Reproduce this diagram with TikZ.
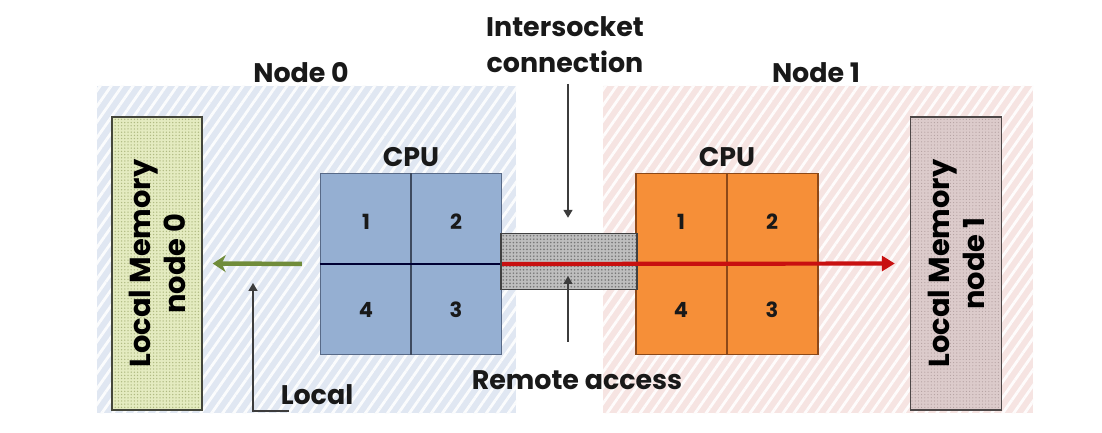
\documentclass[tikz,border=0pt]{standalone}
\usepackage{fontspec}
\setmainfont{Poppins}
\usetikzlibrary{patterns.meta,arrows.meta,calc}
\definecolor{regblue}{RGB}{224,231,242}
\definecolor{regpink}{RGB}{246,228,226}
\definecolor{cpublue}{RGB}{149,175,210}
\definecolor{cpublueedge}{RGB}{88,106,136}
\definecolor{cpuorange}{RGB}{246,143,56}
\definecolor{cpuorangeedge}{RGB}{140,72,24}
\definecolor{memgreen}{RGB}{228,235,192}
\definecolor{memgreendot}{RGB}{176,186,130}
\definecolor{mempink}{RGB}{220,203,203}
\definecolor{mempinkdot}{RGB}{180,160,160}
\definecolor{bargrey}{RGB}{190,190,190}
\definecolor{bardot}{RGB}{120,120,120}
\definecolor{arrowgreen}{RGB}{112,140,58}
\definecolor{arrowred}{RGB}{200,16,16}
\definecolor{ptrgrey}{RGB}{60,60,60}
\definecolor{txt}{RGB}{25,25,25}
\begin{document}
\begin{tikzpicture}[x=1bp,y=-1bp,
  region/.style={draw=none, inner sep=0, pattern={Lines[angle=55,distance=9bp,line width=2.8bp]}, pattern color=white!88!#1},
  lbl/.style={font=\bfseries\fontsize{27}{36}\selectfont, text=txt, inner sep=0},
  numlbl/.style={font=\bfseries\fontsize{21}{22}\selectfont, text=txt, inner sep=0},
  memlbl/.style={font=\bfseries\fontsize{29}{35}\selectfont, text=black, inner sep=0, align=center, rotate=90},
  cpubox/.style={minimum width=181bp, minimum height=181bp, inner sep=0, line width=1.3bp},
  membox/.style={minimum width=90bp, minimum height=293bp, inner sep=0, line width=1.4bp},
  ptr/.style={draw=ptrgrey, line width=1.6bp, -{Triangle[length=8bp,width=9bp]}}
]
\useasboundingbox (0,0) rectangle (1102,433);
\fill[white] (0,0) rectangle (1102,433);

% node regions
\node[region=regblue, preaction={fill=regblue}, minimum width=419bp, minimum height=327bp] (reg0) at (306.5,249.5) {};
\node[region=regpink, preaction={fill=regpink}, minimum width=430bp, minimum height=327bp] (reg1) at (818,249.5) {};

% titles
\node[lbl] (n0lbl) at (301,73) {Node 0};
\node[lbl] (n1lbl) at (816,73) {Node 1};
\node[lbl, align=center] (isclbl) at (565,45) {Intersocket\\connection};

% memory boxes
\node[membox, draw=black!70!memgreen, preaction={fill=memgreen}, pattern={Dots[distance=3.2bp,radius=0.75bp]}, pattern color=memgreendot] (mem0) at (157,263.5) {};
\node[memlbl] (mem0lbl) at (mem0.center) {Local Memory\\node 0};
\node[membox, minimum width=91bp, draw=black!65!mempink, preaction={fill=mempink}, pattern={Dots[distance=3.2bp,radius=0.6bp]}, pattern color=mempinkdot] (mem1) at (956,263.5) {};
\node[memlbl] (mem1lbl) at (mem1.center) {Local Memory\\node 1};

% CPUs
\node[cpubox, fill=cpublue, draw=cpublueedge] (cpu0) at (411,264) {};
\node[cpubox, minimum width=182bp, fill=cpuorange, draw=cpuorangeedge] (cpu1) at (727,264) {};
\draw[line width=1.4bp, draw=cpublueedge!70!black] (cpu0.north) -- (cpu0.south);
\draw[line width=1.4bp, draw=black!80!blue] (cpu0.west) -- (cpu0.east);
\draw[line width=1.6bp, draw=cpuorangeedge] (cpu1.north) -- (cpu1.south);

\node[lbl] (cpu0lbl) at (411,157) {CPU};
\node[lbl] (cpu1lbl) at (727,157) {CPU};

\node[numlbl] (c01) at ($(cpu0.center)+(-45,-42)$) {1};
\node[numlbl] (c02) at ($(cpu0.center)+(45,-42)$) {2};
\node[numlbl] (c04) at ($(cpu0.center)+(-45,46)$) {4};
\node[numlbl] (c03) at ($(cpu0.center)+(45,46)$) {3};
\node[numlbl] (c11) at ($(cpu1.center)+(-46,-42)$) {1};
\node[numlbl] (c12) at ($(cpu1.center)+(45,-42)$) {2};
\node[numlbl] (c14) at ($(cpu1.center)+(-46,46)$) {4};
\node[numlbl] (c13) at ($(cpu1.center)+(45,46)$) {3};

% intersocket bar
\node[draw=black!75, line width=1.4bp, minimum width=136bp, minimum height=56bp, inner sep=0, preaction={fill=bargrey}, pattern={Dots[distance=3.4bp,radius=0.9bp]}, pattern color=bardot] (bar) at (569,261.5) {};

% remote access arrow (red)
\draw[draw=arrowred, line width=4.2bp, -{Triangle[length=13bp,width=15bp]}, shorten >=15bp] (cpu0.east) -- (mem1.west);

% local arrow (green)
\draw[draw=arrowgreen, line width=4.5bp, -{Stealth[length=13bp,width=17bp,inset=4bp]}, shorten <=18bp, shorten >=10bp] (cpu0.west) -- (mem0.east);

% pointers
\coordinate (iscs) at (568,84);
\draw[ptr, shorten >=15bp] (iscs) -- (bar.north -| iscs);
\coordinate (rms) at (568,342);
\coordinate (rmt) at (568,276);
\draw[ptr] (rms) -- (rmt);
\coordinate (lce) at (289,411);
\coordinate (lcc) at (253,411);
\coordinate (lct) at (253,283);
\draw[ptr] (lce) -- (lcc) -- (lct);

\node[lbl] (rmlbl) at (577,380) {Remote access};
\node[lbl] (lclbl) at (317,395) {Local};
\end{tikzpicture}
\end{document}
